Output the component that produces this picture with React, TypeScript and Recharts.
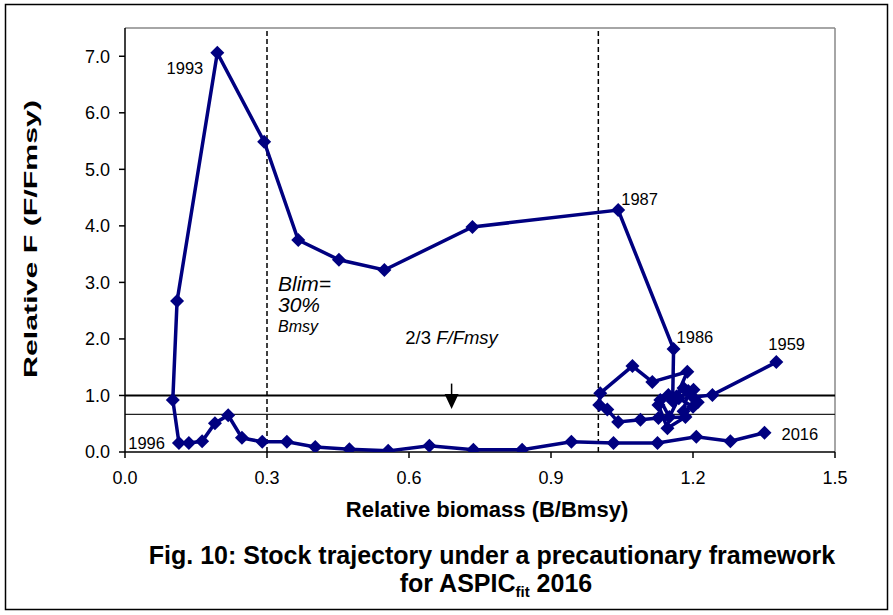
import { ReferenceDot, ReferenceLine, Scatter, ScatterChart, XAxis, YAxis } from "recharts"

// trajectory 1959 -> 2016
const relB = [
  1.376, 1.241, 1.2, 1.21, 1.19, 1.18, 1.2, 1.17, 1.15, 1.131, 1.148, 1.127, 1.146, 1.184,
  1.127, 1.089, 1.042, 1.019, 1.002, 1.004, 1.072, 1.114, 1.188, 1.165, 1.18, 1.201, 1.157, 1.159,
  1.042, 0.734, 0.548, 0.452, 0.366, 0.294, 0.195, 0.11, 0.101,
  0.114, 0.135, 0.163, 0.19, 0.218, 0.247, 0.29, 0.342, 0.402, 0.474, 0.556, 0.643, 0.736,
  0.839, 0.943, 1.032, 1.125, 1.207, 1.279, 1.351,
]
const relF = [
  1.59, 1.01, 0.97, 0.88, 1.08, 0.72, 0.8, 0.95, 0.62, 0.92, 1.01, 0.83, 0.42, 0.62,
  0.6, 0.57, 0.53, 0.75, 0.83, 1.04, 1.52, 1.24, 1.42, 0.98, 1.13, 1.1, 0.9, 1.82,
  4.28, 3.98, 3.22, 3.4, 3.75, 5.49, 7.06, 2.67, 0.92,
  0.16, 0.16, 0.19, 0.51, 0.65, 0.25, 0.18, 0.18, 0.09, 0.05, 0.02, 0.11, 0.04,
  0.04, 0.18, 0.16, 0.16, 0.27, 0.19, 0.34,
]

const xTicks = [0, 0.3, 0.6, 0.9, 1.2, 1.5]
const yTicks = [0, 1, 2, 3, 4, 5, 6, 7]

const blim = 0.3
const bmsy = 1.0
const fmsy = 1
const fTarget = 2 / 3
const arrowX = 0.69

const points = relB.map((b, i) => ({ b, f: relF[i] }))

const navy = "#000080"
const font = "'Liberation Sans', Arial, sans-serif"

const Diamond = (p: any) => {
  const { cx, cy } = p
  const r = 7
  return <path d={`M${cx},${cy - r}L${cx + r},${cy}L${cx},${cy + r}L${cx - r},${cy}Z`} fill={navy} />
}

// year tag drawn next to a point
const tag = (text: string, dx: number, dy: number, anchor = "start") => (p: any) => (
  <text x={p.cx + dx} y={p.cy + dy} textAnchor={anchor} fontSize={16.5} fontFamily={font} fill="#000">
    {text}
  </text>
)

const yearTags = [
  { year: "1959", i: 0, dx: -8, dy: -12, anchor: "start" },
  { year: "1986", i: 27, dx: 3, dy: -6, anchor: "start" },
  { year: "1987", i: 28, dx: 3, dy: -5, anchor: "start" },
  { year: "1993", i: 34, dx: -14, dy: 21, anchor: "end" },
  { year: "1996", i: 37, dx: -14, dy: 6, anchor: "end" },
  { year: "2016", i: relB.length - 1, dx: 17, dy: 7, anchor: "start" },
]

export default function App() {
  return (
    <div style={{ position: "absolute", left: 0, top: 0, width: 893, height: 615, background: "#fff" }}>
      <ScatterChart width={893} height={615} margin={{ top: 28, right: 58, bottom: 133, left: 65 }}>
        <XAxis
          type="number"
          dataKey="b"
          domain={[0, 1.5]}
          ticks={xTicks}
          tickFormatter={(v: number) => v.toFixed(1)}
          stroke="#000"
          strokeWidth={1.5}
          tick={{ fill: "#000", fontSize: 18, fontFamily: font }}
          tickSize={6}
          tickMargin={13}
          height={30}
          allowDataOverflow
        />
        <YAxis
          type="number"
          dataKey="f"
          domain={[0, 7.5]}
          ticks={yTicks}
          tickFormatter={(v: number) => v.toFixed(1)}
          stroke="#000"
          strokeWidth={1.5}
          tick={{ fill: "#000", fontSize: 18, fontFamily: font }}
          tickSize={6}
          tickMargin={9}
          width={60}
          allowDataOverflow
        />
        <ReferenceLine y={7.5} stroke="#888" strokeWidth={1.5} />
        <ReferenceLine x={1.5} stroke="#888" strokeWidth={1.5} />
        <ReferenceLine x={blim} stroke="#000" strokeWidth={1.5} strokeDasharray="5 3" />
        <ReferenceLine x={bmsy} stroke="#000" strokeWidth={1.5} strokeDasharray="5 3" />
        <ReferenceLine y={fmsy} stroke="#000" strokeWidth={2} />
        <ReferenceLine y={fTarget} stroke="#222" strokeWidth={1.3} />
        <ReferenceLine segment={[{ x: arrowX, y: 1.21 }, { x: arrowX, y: 0.95 }]} stroke="#000" strokeWidth={1.5} />
        <ReferenceDot
          x={arrowX}
          y={0.76}
          shape={(p: any) => (
            <path d={`M${p.cx},${p.cy}L${p.cx - 7},${p.cy - 15}L${p.cx + 7},${p.cy - 15}Z`} fill="#000" />
          )}
        />
        <ReferenceDot
          x={arrowX}
          y={1.21}
          shape={(p: any) => (
            <text x={p.cx} y={p.cy - 40} textAnchor="middle" fontSize={18.5} fontFamily={font} fill="#000">
              2/3 <tspan fontStyle="italic">F/Fmsy</tspan>
            </text>
          )}
        />
        <ReferenceDot
          x={blim}
          y={2.85}
          shape={(p: any) => (
            <text x={p.cx + 11} y={p.cy} fontFamily={font} fontStyle="italic" fill="#000">
              <tspan fontSize={21}>Blim=</tspan>
              <tspan x={p.cx + 11} dy={21} fontSize={21}>30%</tspan>
              <tspan x={p.cx + 11} dy={20} fontSize={16}>Bmsy</tspan>
            </text>
          )}
        />
        <Scatter
          data={points}
          dataKey="f"
          line={{ stroke: navy, strokeWidth: 3.5 }}
          shape={<Diamond />}
          isAnimationActive={false}
        />
        {yearTags.map((t) => (
          <ReferenceDot
            key={t.year}
            x={relB[t.i]}
            y={relF[t.i]}
            shape={tag(t.year, t.dx, t.dy, t.anchor)}
          />
        ))}
      </ScatterChart>
      <svg width={893} height={615} style={{ position: "absolute", left: 0, top: 0, pointerEvents: "none" }}>
        <rect x={5.5} y={4.5} width={882} height={605} fill="none" stroke="#000" strokeWidth={1.5} />
        <text
          transform="translate(37,239) rotate(-90)"
          textAnchor="middle"
          fontSize={19}
          fontWeight="bold"
          fontFamily={font}
          textLength={278}
          lengthAdjust="spacingAndGlyphs"
        >
          Relative F (F/Fmsy)
        </text>
        <text x={487} y={517} textAnchor="middle" fontSize={22} fontWeight="bold" fontFamily={font}>
          Relative biomass (B/Bmsy)
        </text>
        <text x={492} y={564} textAnchor="middle" fontSize={25} fontWeight="bold" fontFamily={font}>
          Fig. 10: Stock trajectory under a precautionary framework
        </text>
        <text x={496} y={592} textAnchor="middle" fontSize={25} fontWeight="bold" fontFamily={font}>
          for ASPIC<tspan fontSize={15} dy={5}>fit</tspan>
          <tspan dy={-5}> 2016</tspan>
        </text>
      </svg>
    </div>
  )
}
